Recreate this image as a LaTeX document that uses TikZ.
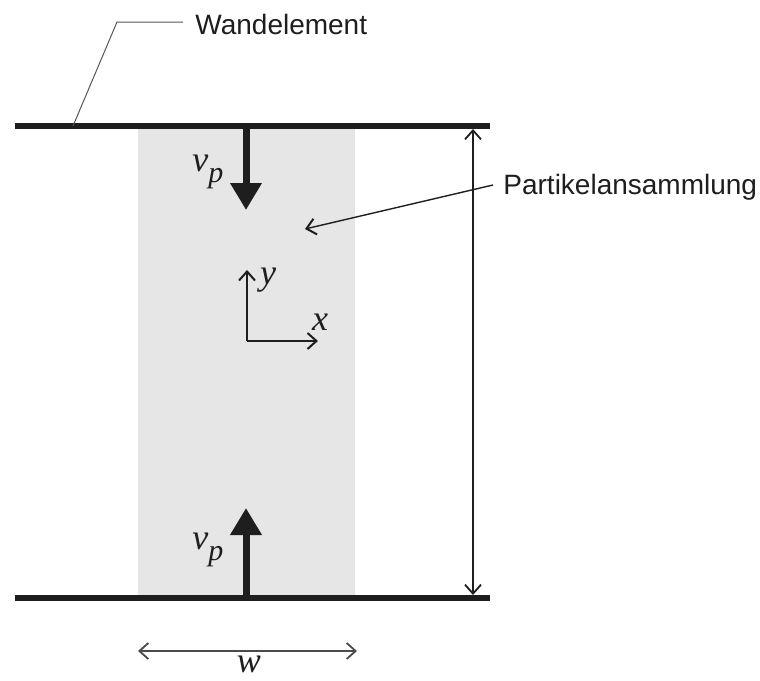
\documentclass[tikz,border=0pt]{standalone}
\usepackage{fontspec}
\setmainfont{Liberation Sans}
\newfontfamily\symfont{Liberation Serif}
\usetikzlibrary{arrows.meta}
\definecolor{fillgray}{HTML}{E6E6E6}
\definecolor{ink}{HTML}{1E1E1E}
\newcommand{\symv}{{\symfont\itshape v}\raisebox{-0.32em}{\fontsize{15}{17}\selectfont\symfont\itshape p}}
\tikzset{
  plate/.style={line width=3pt, draw=ink},
  bigarrow/.style={line width=3.5pt, draw=ink, -{Triangle[width=15pt,length=13.5pt]}},
  thinarrow/.style={line width=0.7pt, draw=ink, -{Straight Barb[length=4.5pt,width=8pt,line width=1pt]}},
  dimarrow/.style={line width=0.6pt, draw=ink, {Straight Barb[length=4.5pt,width=8pt,line width=0.9pt]}-{Straight Barb[length=4.5pt,width=8pt,line width=0.9pt]}},
  label/.style={font=\fontsize{14}{16}\selectfont, text=ink, inner sep=0pt},
  mathlabel/.style={font=\fontsize{18}{20}\selectfont\symfont\itshape, text=ink, inner sep=0pt},
}
\begin{document}
\begin{tikzpicture}[x=0.5pt, y=-0.5pt]
\useasboundingbox (0,0) rectangle (760,680);
% particle accumulation region
\fill[fillgray] (138,126) rectangle (355,598);
% wall elements
\coordinate (TL) at (15,126);
\coordinate (TR) at (490,126);
\coordinate (BL) at (15,598);
\coordinate (BR) at (490,598);
\draw[plate] (TL) -- (TR);
\draw[plate] (BL) -- (BR);
% velocity arrows
\coordinate (vtop0) at (246,124);
\coordinate (vtop1) at (246,210);
\coordinate (vbot0) at (246,600);
\coordinate (vbot1) at (246,508);
\draw[bigarrow] (vtop0) -- (vtop1);
\draw[bigarrow] (vbot0) -- (vbot1);
\node[mathlabel, anchor=west] (vp1) at (192,172) {\symv};
\node[mathlabel, anchor=west] (vp2) at (192,550) {\symv};
% coordinate axes
\coordinate (O) at (247,341);
\coordinate (Oy) at (247,270);
\coordinate (Ox) at (318,341);
\draw[thinarrow, line width=1pt] (O) -- (Oy);
\draw[thinarrow, line width=1pt] (O) -- (Ox);
\node[mathlabel] (ylab) at (268,280) {y};
\node[mathlabel] (xlab) at (320,322) {x};
% height dimension
\coordinate (H0) at (473,129);
\coordinate (H1) at (473,595);
\draw[dimarrow] (H0) -- (H1);
% width dimension
\coordinate (W0) at (138,651);
\coordinate (W1) at (357,651);
\draw[dimarrow, draw=ink!80] (W0) -- (W1);
\node[mathlabel] (wlab) at (249,664) {w};
% labels
\node[label, anchor=west] (wand) at (195,24) {Wandelement};
\coordinate (wk) at (117,22);
\coordinate (wp) at (73,126);
\draw[line width=0.5pt, draw=ink!75] (wand.west) ++(-12,-2) coordinate (wl) -- (wk) -- (wp);
\node[label, anchor=west] (part) at (503,187) {Partikelansammlung};
\coordinate (pt) at (305,229);
\draw[thinarrow] (part.west) ++(-10,-2) -- (pt);
\end{tikzpicture}
\end{document}
